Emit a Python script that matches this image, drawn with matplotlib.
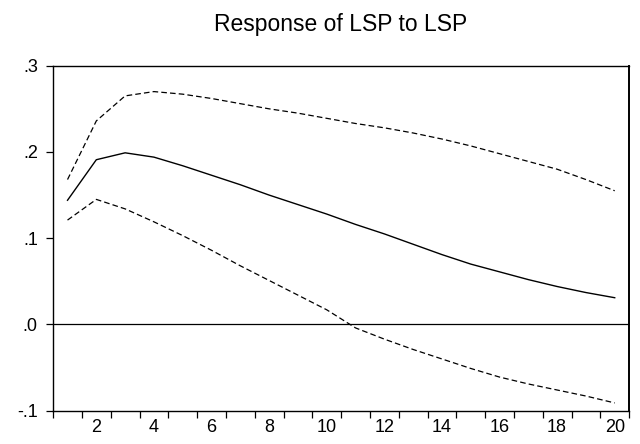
import matplotlib
matplotlib.use("Agg")
import matplotlib.pyplot as plt
import numpy as np

# Respuesta impulso de LSP a LSP con bandas de +/- 2 errores estandar
periods = list(range(1, 21))
response = [0.144, 0.191, 0.199, 0.194, 0.184, 0.173, 0.162, 0.150, 0.139, 0.128,
            0.116, 0.105, 0.093, 0.081, 0.070, 0.061, 0.052, 0.044, 0.037, 0.031]
upper_band = [0.168, 0.236, 0.265, 0.270, 0.267, 0.262, 0.256, 0.250, 0.245, 0.239,
              0.233, 0.228, 0.222, 0.215, 0.207, 0.198, 0.189, 0.180, 0.168, 0.155]
lower_band = [0.121, 0.145, 0.134, 0.119, 0.103, 0.086, 0.068, 0.051, 0.034, 0.017,
              -0.004, -0.017, -0.029, -0.040, -0.051, -0.061, -0.069, -0.076, -0.083, -0.091]
y_ticks = [-0.1, 0.0, 0.1, 0.2, 0.3]
y_tick_labels = ['-.1', '.0', '.1', '.2', '.3']
x_label_ticks = [2, 4, 6, 8, 10, 12, 14, 16, 18, 20]

plt.rcParams['font.family'] = ['Liberation Sans', 'DejaVu Sans']

fig = plt.figure(figsize=(6.4, 4.44), dpi=100)
ax = fig.add_axes([0.083, 0.075, 0.9, 0.777])

dash = (0, (4.5, 2.5))
ax.plot(periods, upper_band, color='black', lw=0.9, linestyle=dash)
ax.plot(periods, lower_band, color='black', lw=0.9, linestyle=dash)
ax.plot(periods, response, color='black', lw=1.0)
ax.axhline(0, color='black', lw=0.9)

ax.set_xlim(0.5, 20.5)
ax.set_ylim(-0.1, 0.3)

# ticks en los limites de cada periodo, etiquetas en los pares
ax.set_xticks(np.arange(0.5, 21, 1.0))
ax.set_xticklabels([])
ax.set_xticks(x_label_ticks, minor=True)
ax.set_xticklabels([str(v) for v in x_label_ticks], minor=True)
ax.tick_params(axis='x', which='major', direction='out', length=5, width=0.9)
ax.tick_params(axis='x', which='minor', length=0, pad=6, labelsize=13)

ax.set_yticks(y_ticks)
ax.set_yticklabels(y_tick_labels)
ax.tick_params(axis='y', direction='out', length=5, width=0.9, pad=6, labelsize=13)

for side in ['left', 'bottom', 'top']:
    ax.spines[side].set_linewidth(1.0)
ax.spines['right'].set_linewidth(1.4)

ax.set_title('Response of LSP to LSP', fontsize=16.5, pad=25)

fig.savefig('out.png', dpi=100)
